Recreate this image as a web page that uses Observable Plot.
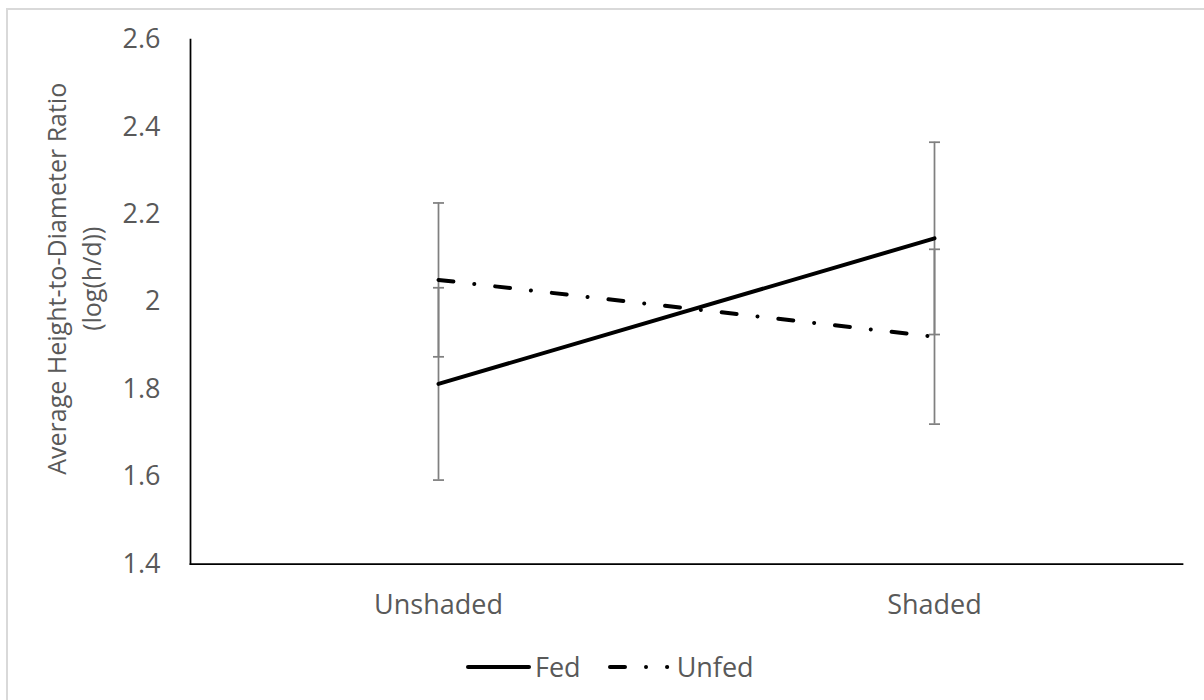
<!DOCTYPE html>
<html>
<head>
<meta charset="utf-8">
<script src="https://cdn.jsdelivr.net/npm/d3@7"></script>
<script src="https://cdn.jsdelivr.net/npm/@observablehq/plot@0.6"></script>
<style>
  html, body { margin: 0; padding: 0; background: #fff; overflow: hidden; }
  #page { position: relative; width: 1204px; height: 700px; overflow: hidden; font-family: "Open Sans", sans-serif; color: #595959; }
  #border { position: absolute; left: 6px; top: 8px; width: 1260px; height: 760px; border: 2px solid #d9d9d9; box-sizing: border-box; }
  #chart { position: absolute; left: 0; top: 0; }
  #legend { position: absolute; left: 466px; top: 646px; height: 40px; display: flex; align-items: center; font-size: 27px; }
  #legend svg { display: block; }
  #legend .item { display: flex; align-items: center; }
</style>
</head>
<body>
<div id="page">
  <div id="border"></div>
  <div id="chart"></div>
  <div id="legend"></div>
</div>
<script>
// Light conditions on the x axis
const groups = ["Unshaded", "Shaded"];
// Treatment series
const seriesNames = ["Fed", "Unfed"];
// Mean log(h/d) per group, and the error-bar half widths
const fedMean = [1.812, 2.145];
const fedErr = [0.22, 0.22];
const unfedMean = [2.05, 1.92];
const unfedErr = [0.176, 0.2];
// Y axis ticks
const yTicks = [1.4, 1.6, 1.8, 2, 2.2, 2.4, 2.6];

const means = {Fed: fedMean, Unfed: unfedMean};
const errs = {Fed: fedErr, Unfed: unfedErr};
const rows = seriesNames.flatMap((s) =>
  groups.map((g, i) => ({
    series: s,
    group: g,
    mean: means[s][i],
    lo: means[s][i] - errs[s][i],
    hi: means[s][i] + errs[s][i]
  }))
);

const dashStyle = {Fed: null, Unfed: "15,21,0.01,21"};

// Horizontal cap for the error bars
const capSymbol = {
  draw(ctx, size) {
    const r = Math.sqrt(size / Math.PI);
    ctx.moveTo(-r, 0);
    ctx.lineTo(r, 0);
  }
};

const barColor = "#808080";

const chart = Plot.plot({
  width: 1204,
  height: 640,
  marginLeft: 190,
  marginRight: 22,
  marginTop: 39,
  marginBottom: 76.5,
  style: {fontFamily: "Open Sans, sans-serif", fontSize: "27px", color: "#595959", background: "transparent", overflow: "visible"},
  x: {type: "point", domain: groups, padding: 0.5, axis: null},
  y: {domain: [1.4, 2.6], axis: null},
  marks: [
    Plot.axisY(yTicks, {tickSize: 0, tickPadding: 30, label: null, fontSize: 27, tickFormat: (d) => `${d}`}),
    Plot.axisX(groups, {tickSize: 0, tickPadding: 31, label: null, fontSize: 27}),
    Plot.text(["Average Height-to-Diameter Ratio\n(log(h/d))"], {
      frameAnchor: "left",
      rotate: -90,
      dx: -118,
      dy: -23,
      fontSize: 25,
      lineHeight: 1.4,
      textAnchor: "middle",
      fill: "#595959"
    }),
    // Error bars
    Plot.ruleX(rows, {x: "group", y1: "lo", y2: "hi", stroke: barColor, strokeWidth: 1.75}),
    Plot.dot(rows, {x: "group", y: "lo", r: 5.5, symbol: capSymbol, stroke: barColor, strokeWidth: 1.75, fill: "none"}),
    Plot.dot(rows, {x: "group", y: "hi", r: 5.5, symbol: capSymbol, stroke: barColor, strokeWidth: 1.75, fill: "none"}),
    // Series lines
    ...seriesNames.map((s) =>
      Plot.line(rows.filter((d) => d.series === s), {
        x: "group",
        y: "mean",
        stroke: "black",
        strokeWidth: 4,
        strokeLinecap: "round",
        strokeDasharray: dashStyle[s]
      })
    ),
    // Axis lines
    Plot.frame({anchor: "left", stroke: "black", strokeWidth: 1.75}),
    Plot.frame({anchor: "bottom", stroke: "black", strokeWidth: 1.75})
  ]
});
document.getElementById("chart").appendChild(chart);

// Legend below the chart
const legend = d3.select("#legend");
seriesNames.forEach((s, i) => {
  const item = legend.append("div").attr("class", "item").style("margin-left", i === 0 ? "0px" : "27px");
  const svg = item.append("svg").attr("width", 65).attr("height", 10);
  svg.append("line")
    .attr("x1", 2).attr("x2", dashStyle[s] ? 59.2 : 63).attr("y1", 6).attr("y2", 6)
    .attr("stroke", "black").attr("stroke-width", 4).attr("stroke-linecap", "round")
    .attr("stroke-dasharray", dashStyle[s]);
  item.append("span").text(s).style("margin-left", "4px");
});
</script>
</body>
</html>
